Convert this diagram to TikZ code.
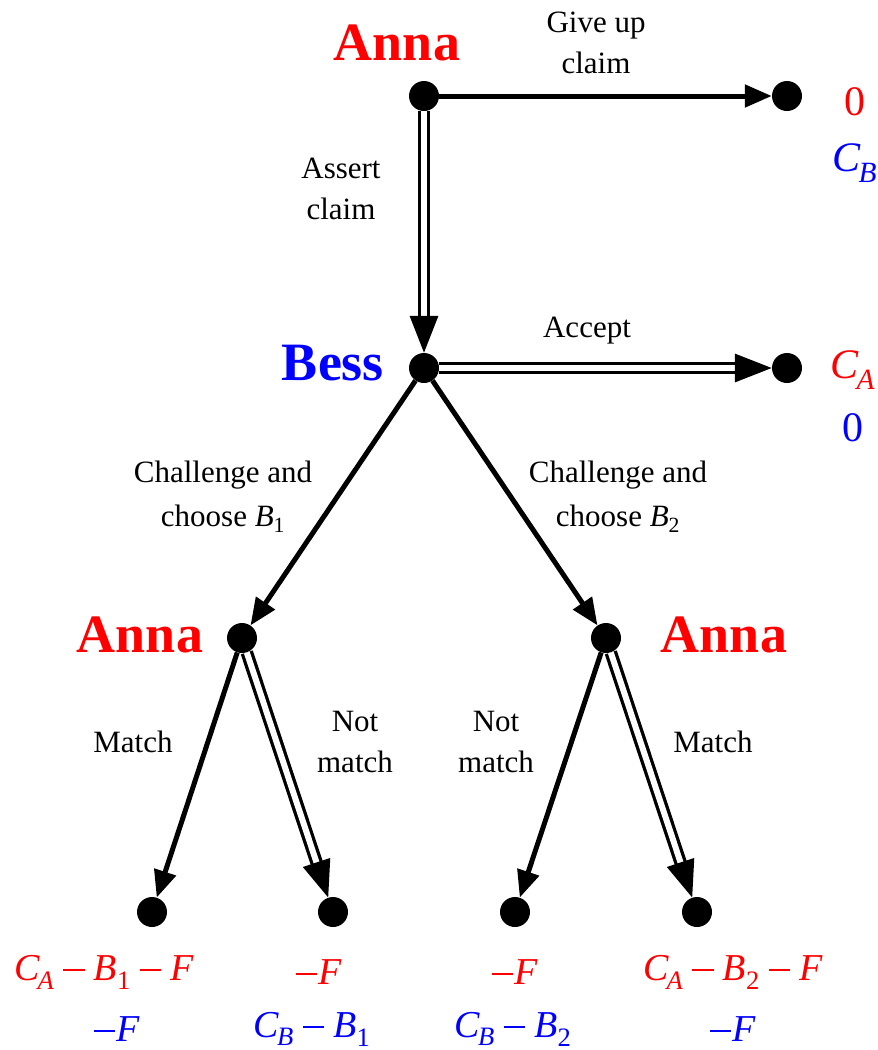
\documentclass[tikz,border=0pt]{standalone}
\usepackage{fontspec}
\setmainfont{Liberation Serif}
\usetikzlibrary{arrows.meta}
\newcommand{\V}[2]{\textit{#1}\kern-0.06em\textsubscript{\textit{#2}}}
\newcommand{\Vn}[2]{\textit{#1}\textsubscript{#2}}
\newcommand{\mm}{\raisebox{0.24em}{\rule{0.56em}{0.055em}}}
\newcommand{\mn}{\hspace{0.24em}\mm\hspace{0.24em}}
\definecolor{pred}{RGB}{255,0,0}
\definecolor{pblue}{RGB}{0,0,255}
\begin{document}
\begin{tikzpicture}[x=1pt,y=-1pt,
  dot/.style={circle,fill=black,inner sep=0pt,minimum size=30pt},
  sarr/.style={line width=5pt,-{Triangle[length=27pt,width=22pt]}},
  darr/.style={line width=3.3pt,double=white,double distance=6pt,-{Triangle[length=37pt,width=28pt]}},
  lbl/.style={font=\fontsize{31}{41}\selectfont,align=center,inner sep=0pt},
  lblw/.style={font=\fontsize{31}{44}\selectfont,align=center,inner sep=0pt},
  player/.style={font=\fontsize{54}{60}\selectfont\bfseries,anchor=base,inner sep=0pt},
  pay/.style={font=\fontsize{42}{48}\selectfont,inner sep=0pt},
  payb/.style={font=\fontsize{38}{44}\selectfont,inner sep=0pt}]
\useasboundingbox (0,0) rectangle (878,1050);
% decision and terminal nodes
\node[dot] (A) at (424,96) {};
\node[dot] (T0) at (787,96) {};
\node[dot] (B) at (424,368) {};
\node[dot] (T1) at (787,368) {};
\node[dot] (AL) at (242,638) {};
\node[dot] (AR) at (606,638) {};
\node[dot] (L1) at (152,912) {};
\node[dot] (L2) at (333,912) {};
\node[dot] (L3) at (515,912) {};
\node[dot] (L4) at (697,912) {};
% players
\node[player,pred] (pA) at (397,60) {Anna};
\node[player,pblue] (pB) at (333,380) {Bess};
\node[player,pred] (pAL) at (140,652) {Anna};
\node[player,pred] (pAR) at (724,652) {Anna};
% edges
\draw[sarr] (A) -- (T0);
\draw[darr] (A) -- (B);
\draw[darr] (B) -- (T1);
\draw[sarr] (B) -- (AL);
\draw[sarr] (B) -- (AR);
\draw[sarr] (AL) -- (L1);
\draw[darr] (AL) -- (L2);
\draw[sarr] (AR) -- (L3);
\draw[darr] (AR) -- (L4);
% edge labels
\node[lbl] (eGive) at (596,43) {Give up\\claim};
\node[lbl] (eAssert) at (341,189) {Assert\\claim};
\node[lbl] (eAccept) at (587,331) {Accept};
\node[lblw] (eCh1) at (223,497) {Challenge and\\choose \Vn{B}{1}};
\node[lblw] (eCh2) at (618,497) {Challenge and\\choose \Vn{B}{2}};
\node[lbl] (eM1) at (133,742) {Match};
\node[lbl] (eN1) at (355,742) {Not\\match};
\node[lbl] (eN2) at (496,742) {Not\\match};
\node[lbl] (eM2) at (713,742) {Match};
% payoffs
\node[pay,pred] (p0a) at (855,102) {0};
\node[pay,pblue] (p0b) at (855,163) {\V{C}{B}};
\node[pay,pred] (p1a) at (853,370) {\V{C}{A}};
\node[pay,pblue] (p1b) at (853,428) {0};
\node[payb,pred] (q1a) at (104,972) {\V{C}{A}\mn\Vn{B}{1}\mn\textit{F}};
\node[payb,pblue] (q1b) at (117,1029) {\mm\kern0.05em\textit{F}};
\node[payb,pred] (q2a) at (319,972) {\mm\kern0.05em\textit{F}};
\node[payb,pblue] (q2b) at (312,1029) {\V{C}{B}\mn\Vn{B}{1}};
\node[payb,pred] (q3a) at (515,972) {\mm\kern0.05em\textit{F}};
\node[payb,pblue] (q3b) at (513,1029) {\V{C}{B}\mn\Vn{B}{2}};
\node[payb,pred] (q4a) at (733,972) {\V{C}{A}\mn\Vn{B}{2}\mn\textit{F}};
\node[payb,pblue] (q4b) at (733,1029) {\mm\kern0.05em\textit{F}};
\end{tikzpicture}
\end{document}
